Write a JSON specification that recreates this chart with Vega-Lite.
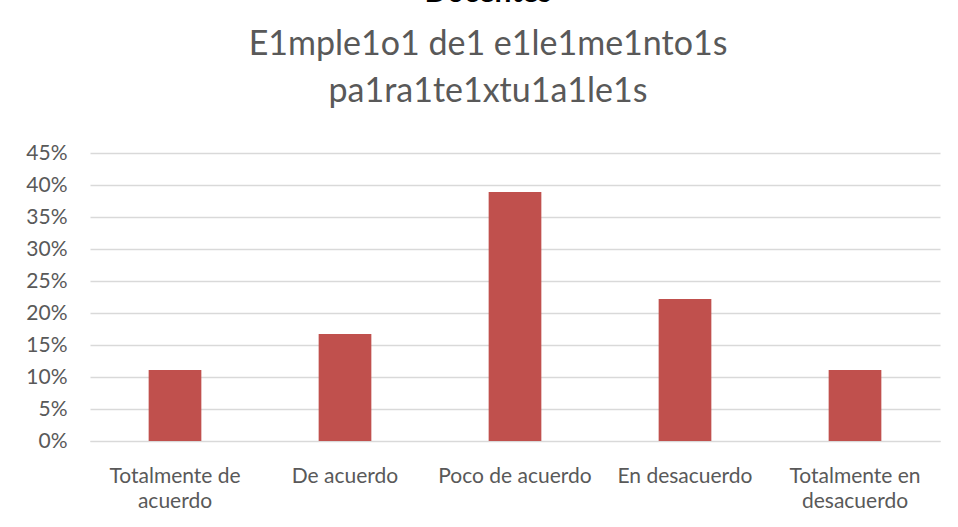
{
  "$schema": "https://vega.github.io/schema/vega-lite/v6.json",
  "width": 850,
  "height": 288,
  "autosize": {"type": "none"},
  "padding": {"left": 90, "top": 153, "right": 18, "bottom": 86},
  "background": "white",
  "title": {
    "text": "Docentes",
    "subtitle": ["E1mple1o1 de1 e1le1me1nto1s", "pa1ra1te1xtu1a1le1s"],
    "anchor": "middle",
    "dx": -27,
    "offset": 33,
    "font": "Lato",
    "fontSize": 30,
    "fontWeight": "bold",
    "color": "#000000",
    "subtitleFont": "Lato",
    "subtitleFontSize": 34,
    "subtitleColor": "#595959",
    "subtitleLineHeight": 47,
    "subtitlePadding": 20
  },
  "data": {
    "values": [
      {"categoria": "Totalmente de acuerdo", "pct": 0.111},
      {"categoria": "De acuerdo", "pct": 0.167},
      {"categoria": "Poco de acuerdo", "pct": 0.389},
      {"categoria": "En desacuerdo", "pct": 0.222},
      {"categoria": "Totalmente en desacuerdo", "pct": 0.111}
    ]
  },
  "mark": {"type": "bar", "color": "#C0504D"},
  "encoding": {
    "x": {
      "field": "categoria",
      "type": "nominal",
      "sort": null,
      "scale": {"paddingInner": 0.69, "paddingOuter": 0.345},
      "axis": {
        "title": null,
        "labelAngle": 0,
        "labelFont": "Lato",
        "labelFontSize": 21,
        "labelColor": "#595959",
        "labelPadding": 24,
        "labelLineHeight": 25,
        "labelBaseline": "top",
        "ticks": false,
        "domainColor": "#D9D9D9",
        "domainWidth": 1,
        "labelExpr": "datum.value == 'Totalmente de acuerdo' ? ['Totalmente de', 'acuerdo'] : datum.value == 'Totalmente en desacuerdo' ? ['Totalmente en', 'desacuerdo'] : datum.value"
      }
    },
    "y": {
      "field": "pct",
      "type": "quantitative",
      "scale": {"domain": [0, 0.45], "nice": false},
      "axis": {
        "title": null,
        "format": ".0%",
        "values": [0, 0.05, 0.1, 0.15, 0.2, 0.25, 0.3, 0.35, 0.4, 0.45],
        "labelFont": "Lato",
        "labelFontSize": 21,
        "labelColor": "#595959",
        "labelPadding": 23,
        "ticks": false,
        "domain": false,
        "gridColor": "#D9D9D9",
        "gridWidth": 1.3
      }
    }
  },
  "config": {"view": {"stroke": null}}
}
